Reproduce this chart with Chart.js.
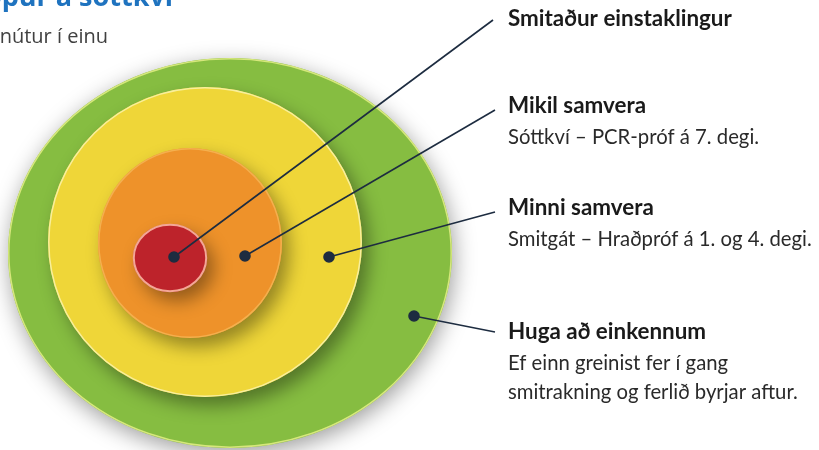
<!DOCTYPE html>
<html lang="is">
<head>
<meta charset="UTF-8">
<title>Smitaður einstaklingur og samvera</title>
<script src="https://cdn.jsdelivr.net/npm/chart.js@4.4.1/dist/chart.umd.min.js"></script>
<style>
  body { margin: 0; background: #ffffff; }
  #wrap { width: 819px; height: 450px; position: relative; }
</style>
</head>
<body>
<div id="wrap"><canvas id="myChart"></canvas></div>
<script>
// rings, outer to inner (centre and radii in chart units)
var ringNames = ['Huga að einkennum', 'Minni samvera', 'Mikil samvera', 'Smitaður einstaklingur'];
var ringCx = [230, 205, 190, 170];
var ringCy = [253, 242, 243, 258];
var ringRx = [222, 157, 92, 37];
var ringRy = [195, 155, 95, 34];
var ringColors = ['#86bd41', '#efd638', '#ee922a', '#bd232b'];
var ringEdges = ['#d6e77c', '#f8ef9c', '#f4b04e', '#f3a796'];

// leader lines: dot inside the ring -> label
var dotX = [414, 329, 245, 174];
var dotY = [316, 257, 256, 257];
var endX = [495, 495, 495, 493];
var endY = [332, 212, 110, 20];

// label texts
var labelTitles = ['Huga að einkennum', 'Minni samvera', 'Mikil samvera', 'Smitaður einstaklingur'];
var labelLines = [
  ['Ef einn greinist fer í gang', 'smitrakning og ferlið byrjar aftur.'],
  ['Smitgát – Hraðpróf á 1. og 4. degi.'],
  ['Sóttkví – PCR-próf á 7. degi.'],
  []
];
var labelBase = [339, 215, 113, 26];

var headTitle = 'Smitaður hópur á sóttkví';
var headSub = 'Samvera lengur en 15 mínútur í einu';

var leaderSets = [];
for (var i = 0; i < dotX.length; i++) {
  leaderSets.push({
    label: ringNames[i],
    data: [{x: dotX[i], y: dotY[i]}, {x: endX[i], y: endY[i]}],
    showLine: true,
    borderColor: '#1d2c40',
    backgroundColor: '#1d2c40',
    borderWidth: 1.6,
    pointRadius: [5, 0],
    pointHoverRadius: [5, 0]
  });
}

var ringsPlugin = {
  id: 'rings',
  beforeDatasetsDraw: function(chart) {
    var ctx = chart.ctx, xs = chart.scales.x, ys = chart.scales.y;
    for (var i = 0; i < ringCx.length; i++) {
      var cx = xs.getPixelForValue(ringCx[i]);
      var cy = ys.getPixelForValue(ringCy[i]);
      var rx = Math.abs(xs.getPixelForValue(ringCx[i] + ringRx[i]) - cx);
      var ry = Math.abs(ys.getPixelForValue(ringCy[i] + ringRy[i]) - cy);
      ctx.save();
      ctx.shadowColor = 'rgba(0,0,0,0.38)';
      ctx.shadowBlur = i === 0 ? 22 : 18;
      ctx.shadowOffsetX = i === 0 ? 2 : 7;
      ctx.shadowOffsetY = i === 0 ? 6 : 9;
      ctx.beginPath();
      ctx.ellipse(cx, cy, rx, ry, 0, 0, Math.PI * 2);
      ctx.fillStyle = ringColors[i];
      ctx.fill();
      ctx.restore();
      ctx.save();
      ctx.beginPath();
      ctx.ellipse(cx, cy, rx - 0.8, ry - 0.8, 0, 0, Math.PI * 2);
      ctx.strokeStyle = ringEdges[i];
      ctx.lineWidth = i === 3 ? 2 : 1.5;
      ctx.stroke();
      ctx.restore();
    }
  },
  afterDatasetsDraw: function(chart) {
    var ctx = chart.ctx;
    ctx.save();
    ctx.textAlign = 'right';
    ctx.textBaseline = 'alphabetic';
    ctx.fillStyle = '#1f73bf';
    ctx.font = 'bold 27px "Open Sans"';
    ctx.fillText(headTitle, 173, 6);
    ctx.fillStyle = '#404040';
    ctx.font = '20px "Open Sans"';
    ctx.fillText(headSub, 108, 43);

    ctx.textAlign = 'left';
    for (var i = 0; i < labelTitles.length; i++) {
      var y = labelBase[i];
      ctx.fillStyle = '#1a1a1a';
      ctx.font = 'bold 22.4px Lato';
      ctx.fillText(labelTitles[i], 508, y);
      ctx.fillStyle = '#2a2a2a';
      ctx.font = '20.3px Lato';
      for (var j = 0; j < labelLines[i].length; j++) {
        ctx.fillText(labelLines[i][j], 508, y + 31 + j * 29);
      }
    }
    ctx.restore();
  }
};

new Chart('myChart', {
  type: 'scatter',
  data: { datasets: leaderSets },
  options: {
    responsive: true,
    maintainAspectRatio: false,
    animation: false,
    layout: { padding: 0, autoPadding: false },
    plugins: { legend: { display: false }, tooltip: { enabled: false } },
    scales: {
      x: { type: 'linear', min: 0, max: 819, display: false },
      y: { type: 'linear', min: 0, max: 450, reverse: true, display: false }
    }
  },
  plugins: [ringsPlugin]
});
</script>
</body>
</html>
